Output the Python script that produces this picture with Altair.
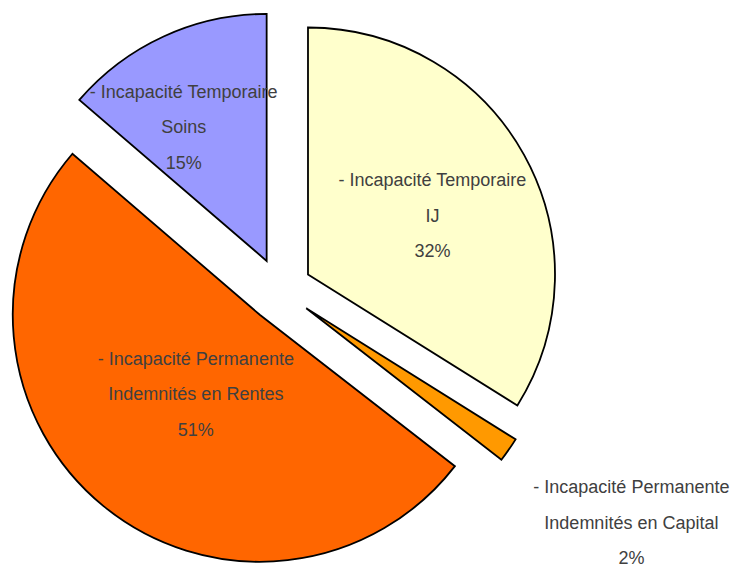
import altair as alt
import pandas as pd

# ---- data ----
categories = [
    "Incapacité Temporaire IJ",
    "Incapacité Permanente Indemnités en Capital",
    "Incapacité Permanente Indemnités en Rentes",
    "Incapacité Temporaire Soins",
]
shares = [33.9, 1.6, 50.8, 13.7]          # slice sizes as drawn
label_text = [
    "- Incapacité Temporaire\nIJ\n32%",
    "- Incapacité Permanente\nIndemnités en Capital\n2%",
    "- Incapacité Permanente\nIndemnités en Rentes\n51%",
    "- Incapacité Temporaire\nSoins\n15%",
]
colors = ["#FFFFCC", "#FF9900", "#FF6600", "#9999FF"]

# ---- layout constants ----
W, H = 722, 557
CX, CY = 272, 282        # pie centre in chart pixels
R = 247                  # pie radius
EXPLODE = 32             # explosion distance
label_dist = [170, 421, 133, 190]   # label distance from centre
label_rot = [2.7, -1.5, 0, -5.8]    # label angle tweak (degrees)
LINE_H = 35.5

df = pd.DataFrame({
    "cat": categories,
    "share": shares,
    "label": label_text,
    "ldist": label_dist,
    "lrot": label_rot,
    "order": list(range(len(categories))),
})

base = alt.Chart(df).transform_joinaggregate(
    total="sum(share)"
).transform_window(
    cum="sum(share)", sort=[alt.SortField("order")], frame=[None, 0]
).transform_calculate(
    t1="2*PI*datum.cum/datum.total",
    t0="2*PI*(datum.cum-datum.share)/datum.total",
).transform_calculate(
    mid="(datum.t0+datum.t1)/2"
).transform_calculate(
    lang="datum.mid + datum.lrot*PI/180",
    px=f"{CX}+{EXPLODE}*sin(datum.mid)",
    py=f"{CY}-{EXPLODE}*cos(datum.mid)",
).transform_calculate(
    lx=f"{CX}+datum.ldist*sin(datum.lang)",
    ly=f"{CY}-datum.ldist*cos(datum.lang)",
)

arcs = base.mark_arc(radius=R, stroke="black", strokeWidth=1.8).encode(
    x=alt.X("px:Q", scale=None, axis=None),
    y=alt.Y("py:Q", scale=None, axis=None),
    theta=alt.Theta("t0:Q", scale=None),
    theta2=alt.Theta2("t1:Q"),
    color=alt.Color("cat:N", scale=alt.Scale(domain=categories, range=colors), legend=None),
)

labels = base.mark_text(
    font="Liberation Sans, Arial, sans-serif",
    fontSize=18, color="#404040", lineBreak="\n", lineHeight=LINE_H,
    align="center", baseline="middle", dy=-LINE_H + 2,
).encode(
    x=alt.X("lx:Q", scale=None, axis=None),
    y=alt.Y("ly:Q", scale=None, axis=None),
    text="label:N",
)

chart = (arcs + labels).properties(
    width=W, height=H, padding=0, background="white",
    autosize=alt.AutoSizeParams(type="none"),
).configure_view(strokeWidth=0)

chart.save("out.html", embed_options={"renderer": "svg", "actions": False})
